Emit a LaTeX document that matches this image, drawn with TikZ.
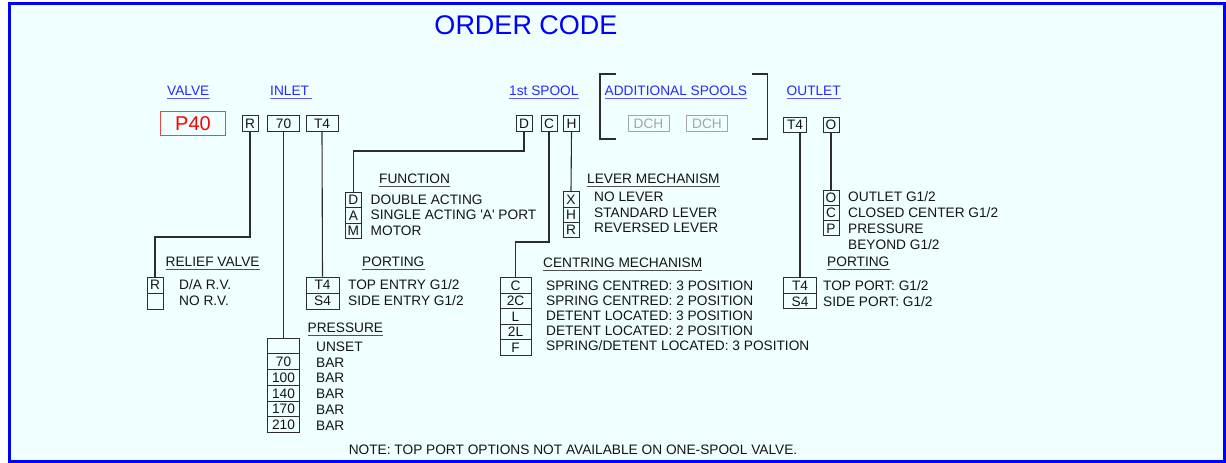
\documentclass[tikz,border=0pt]{standalone}
\usepackage{fontspec}
\setmainfont{Liberation Sans}
\usetikzlibrary{positioning,calc}
\definecolor{frameblue}{RGB}{0,0,255}
\definecolor{headblue}{RGB}{40,40,255}
\definecolor{linkline}{RGB}{90,90,255}
\definecolor{paper}{RGB}{240,255,255}
\definecolor{inkgray}{RGB}{20,20,20}
\definecolor{rulegray}{RGB}{45,45,45}
\definecolor{secline}{RGB}{80,80,80}
\definecolor{dchgray}{RGB}{165,165,165}
\definecolor{pfred}{RGB}{255,0,0}
\definecolor{pfline}{RGB}{240,70,70}
\newcommand{\bodyfont}{\fontsize{13.7}{13.7}\selectfont}

\begin{document}
\begin{tikzpicture}[x=1pt, y=-1pt,
    codebox/.style={draw=rulegray, line width=1pt, inner sep=0pt, minimum height=15.5pt,
      minimum width=16pt, text height=9.8pt, text depth=0pt, text=inkgray, font=\bodyfont},
    opttext/.style={anchor=west, inner sep=0pt, text height=9.8pt, text depth=0pt,
      text=inkgray, font=\bodyfont},
    headlink/.style={anchor=west, inner xsep=0pt, inner ysep=2.6pt, text height=9.8pt,
      text depth=0pt, text=headblue, font=\bodyfont,
      append after command={\pgfextra{\draw[linkline, line width=1pt]
        (\tikzlastnode.south west) -- (\tikzlastnode.south east);}}},
    sechead/.style={headlink, text=inkgray,
      append after command={\pgfextra{\draw[secline, line width=1pt]
        (\tikzlastnode.south west) -- (\tikzlastnode.south east);}}},
    wire/.style={rulegray, line width=1.1pt},
    dchbox/.style={codebox, draw=dchgray, text=dchgray, minimum width=41pt}]

  \useasboundingbox (0,0) rectangle (1226,463);
  \fill[white] (0,0) rectangle (1226,463);
  \draw[frameblue, line width=3pt, fill=paper] (9.5,3.5) rectangle (1224,461.5);

  % title and column headings
  \node[text=frameblue, font=\fontsize{27}{27}\selectfont, inner sep=0pt] (title) at (526,25) {ORDER CODE};
  \node[headlink] (hvalve) at (167,91) {VALVE};
  \node[headlink] (hinlet) at (270,91) {INLET\,};
  \node[headlink] (hspool) at (509,91) {1st SPOOL};
  \node[headlink] (hadd) at (604.5,91) {ADDITIONAL SPOOLS};
  \node[headlink] (houtlet) at (786.5,91) {OUTLET};

  % code row
  \node[draw=pfline, line width=1pt, text=pfred, font=\fontsize{20}{20}\selectfont,
    minimum width=65.5pt, minimum height=24.5pt, inner sep=0pt] (vP) at (193,123.5) {P40};
  \node[codebox] (vR) at (250,123.3) {R};
  \node[codebox, minimum width=32pt] (in70) at (283.5,123.3) {70};
  \node[codebox, minimum width=32pt] (inT4) at (322,123.3) {T4};
  \node[codebox] (spD) at (524,123.7) {D};
  \node[codebox] (spC) at (549,123.7) {C};
  \node[codebox] (spH) at (571.5,123.7) {H};
  \node[dchbox] (dch1) at (648.5,123.5) {DCH};
  \node[dchbox] (dch2) at (707,123.5) {DCH};
  \node[codebox, minimum width=23pt] (outT4) at (795,125) {T4};
  \node[codebox] (outO) at (831,125) {O};

  % brackets round the additional spools
  \draw[wire, line width=1.3pt] (616,74) -- (600,74) -- (600,139) -- (616,139);
  \draw[wire, line width=1.3pt] (752,74) -- (767.5,74) -- (767.5,139) -- (752,139);

  % relief valve
  \node[sechead] (hrv) at (165.5,262) {RELIEF VALVE};
  \foreach \lbl/\txt [count=\i from 0] in {R/{D/A R.V.}, /{NO R.V.}} {
    \node[codebox, minimum height=16pt] (rv\i) at (155,{285+16*\i}) {\lbl};
    \node[opttext] (rvt\i) at (179,{285+16*\i}) {\txt};
  }

  % inlet porting
  \node[sechead] (hpi) at (362,262) {PORTING};
  \foreach \lbl/\txt [count=\i from 0] in {T4/{TOP ENTRY G1/2}, S4/{SIDE ENTRY G1/2}} {
    \node[codebox, minimum width=33pt, minimum height=16pt] (pi\i) at (322.5,{285+16*\i}) {\lbl};
    \node[opttext] (pit\i) at (348,{285+16*\i}) {\txt};
  }

  % pressure
  \node[sechead] (hpr) at (307.5,327.5) {PRESSURE};
  \foreach \lbl/\txt [count=\i from 0] in {/UNSET, 70/BAR, 100/BAR, 140/BAR, 170/BAR, 210/BAR} {
    \node[codebox, minimum width=32pt, minimum height=15.75pt] (pr\i) at (283.5,{345.9+15.75*\i}) {\lbl};
    \node[opttext] (prt\i) at (316,{346.5+15.75*\i}) {\txt};
  }

  % function
  \node[sechead] (hfn) at (379,178.3) {FUNCTION};
  \foreach \lbl/\txt [count=\i from 0] in {D/{DOUBLE ACTING}, A/{SINGLE ACTING \textquotesingle A\textquotesingle{} PORT}, M/{MOTOR}} {
    \node[codebox] (fn\i) at (353.4,{199.8+15.5*\i}) {\lbl};
    \node[opttext] (fnt\i) at (370.5,{199.3+15.5*\i}) {\txt};
  }

  % lever mechanism
  \node[sechead] (hlv) at (587,178.3) {LEVER MECHANISM};
  \foreach \lbl/\txt [count=\i from 0] in {X/{NO LEVER}, H/{STANDARD LEVER}, R/{REVERSED LEVER}} {
    \node[codebox, minimum height=15.3pt] (lv\i) at (571,{199.4+15.3*\i}) {\lbl};
    \node[opttext] (lvt\i) at (594,{197+15.5*\i}) {\txt};
  }

  % centring mechanism
  \node[sechead] (hcm) at (543,262.7) {CENTRING MECHANISM};
  \foreach \lbl/\txt [count=\i from 0] in {C/{SPRING CENTRED: 3 POSITION}, 2C/{SPRING CENTRED: 2 POSITION},
      L/{DETENT LOCATED: 3 POSITION}, 2L/{DETENT LOCATED: 2 POSITION}, F/{SPRING/DETENT LOCATED: 3 POSITION}} {
    \node[codebox, minimum width=31pt] (cm\i) at (515.5,{285.5+15.5*\i}) {\lbl};
    \node[opttext] (cmt\i) at (546,{285.5+15*\i}) {\txt};
  }

  % outlet
  \foreach \lbl/\txt [count=\i from 0] in {O/{OUTLET G1/2}, C/{CLOSED CENTER G1/2}, P/{PRESSURE}} {
    \node[codebox, minimum height=15.3pt] (oo\i) at (831,{197.7+15.3*\i}) {\lbl};
    \node[opttext] (oot\i) at (848,{197+16*\i}) {\txt};
  }
  \node[opttext] (oot3) at (848,245) {BEYOND G1/2};

  % outlet porting
  \node[sechead] (hpo) at (827,261.7) {PORTING};
  \foreach \lbl/\txt [count=\i from 0] in {T4/{TOP PORT: G1/2}, S4/{SIDE PORT: G1/2}} {
    \node[codebox, minimum width=33pt] (po\i) at (800,{285.7+15.5*\i}) {\lbl};
    \node[opttext] (pot\i) at (823,{285.3+16*\i}) {\txt};
  }

  % connectors
  \coordinate (rvbend) at (155,237);
  \coordinate (fnbend) at (353.4,151);
  \coordinate (cmbend) at (515.5,242);
  \draw[wire] (vR.south) |- (rvbend) -- (rv0.north);
  \draw[wire] (in70.south) -- (pr0.north);
  \draw[wire] (inT4.south) -- (pi0.north);
  \draw[wire] (spD.south) |- (fnbend) -- (fn0.north);
  \draw[wire] (spC.south) |- (cmbend) -- (cm0.north);
  \draw[wire] (spH.south) -- (lv0.north);
  \draw[wire] (po0.north) -- (po0.north |- outT4.south);
  \draw[wire] (outO.south) -- (oo0.north);

  % note
  \node[opttext, anchor=center] (note) at (573,450) {NOTE: TOP PORT OPTIONS NOT AVAILABLE ON ONE-SPOOL VALVE.};
\end{tikzpicture}
\end{document}
